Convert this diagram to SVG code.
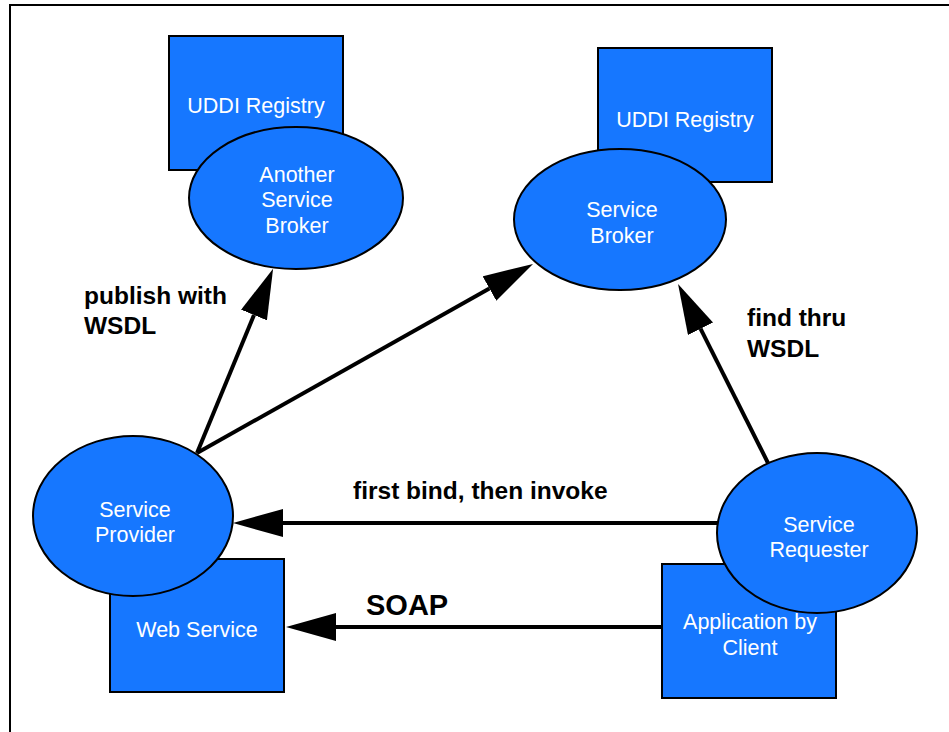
<svg xmlns="http://www.w3.org/2000/svg" width="949" height="732" viewBox="0 0 949 732">
  <style>
    .box { fill: #1677ff; stroke: #000; stroke-width: 2; }
    .node-text { font-family: "Liberation Sans", Arial, sans-serif; font-size: 21.5px; fill: #fff; text-anchor: middle; }
    .label { font-family: "Liberation Sans", Arial, sans-serif; font-size: 24.5px; font-weight: bold; fill: #000; }
    .edge { stroke: #000; stroke-width: 4; fill: none; marker-end: url(#head); }
    .frame { stroke: #000; stroke-width: 2; fill: none; }
  </style>
  <defs>
    <marker id="head" markerUnits="userSpaceOnUse" viewBox="0 0 50 28" markerWidth="50" markerHeight="28" refX="0" refY="14" orient="auto">
      <path d="M0,0 L50,14 L0,28 z" fill="#000"/>
    </marker>
  </defs>

  <!-- page frame -->
  <path class="frame" d="M10,732 L10,5 L949,5"/>

  <g id="another-broker">
    <rect class="box" x="169" y="36" width="174" height="134"/>
    <text class="node-text" x="256" y="113">UDDI Registry</text>
    <ellipse class="box" cx="296" cy="198" rx="107" ry="71"/>
    <text class="node-text" x="297" y="182">Another</text>
    <text class="node-text" x="297" y="207">Service</text>
    <text class="node-text" x="297" y="233">Broker</text>
  </g>

  <g id="service-broker">
    <rect class="box" x="598" y="48" width="174" height="134"/>
    <text class="node-text" x="685" y="127">UDDI Registry</text>
    <ellipse class="box" cx="620" cy="219.5" rx="106" ry="70.5"/>
    <text class="node-text" x="622" y="217">Service</text>
    <text class="node-text" x="622" y="243">Broker</text>
  </g>

  <g id="service-provider">
    <rect class="box" x="110" y="559" width="174" height="133"/>
    <text class="node-text" x="197" y="637">Web Service</text>
    <ellipse class="box" cx="133" cy="516" rx="100" ry="80"/>
    <text class="node-text" x="135" y="517">Service</text>
    <text class="node-text" x="135" y="542">Provider</text>
  </g>

  <g id="service-requester">
    <rect class="box" x="662" y="564" width="174" height="134"/>
    <text class="node-text" x="750" y="629">Application by</text>
    <text class="node-text" x="750" y="655">Client</text>
    <ellipse class="box" cx="817" cy="533" rx="100" ry="80"/>
    <text class="node-text" x="819" y="532">Service</text>
    <text class="node-text" x="819" y="557">Requester</text>
  </g>

  <g id="connectors">
    <line class="edge" x1="197" y1="453" x2="254" y2="315"/>
    <line class="edge" x1="197" y1="453" x2="489.4" y2="288.5"/>
    <line class="edge" x1="768" y1="463" x2="700.5" y2="328.7"/>
    <line class="edge" x1="718" y1="523" x2="283" y2="523"/>
    <line class="edge" x1="662" y1="627" x2="336" y2="627"/>
  </g>

  <g id="labels">
    <text class="label" x="84" y="304">publish with</text>
    <text class="label" x="84" y="334">WSDL</text>
    <text class="label" x="747" y="326">find thru</text>
    <text class="label" x="747" y="357">WSDL</text>
    <text class="label" x="353" y="499">first bind, then invoke</text>
    <text class="label" x="366" y="615" style="font-size:29px">SOAP</text>
  </g>
</svg>
